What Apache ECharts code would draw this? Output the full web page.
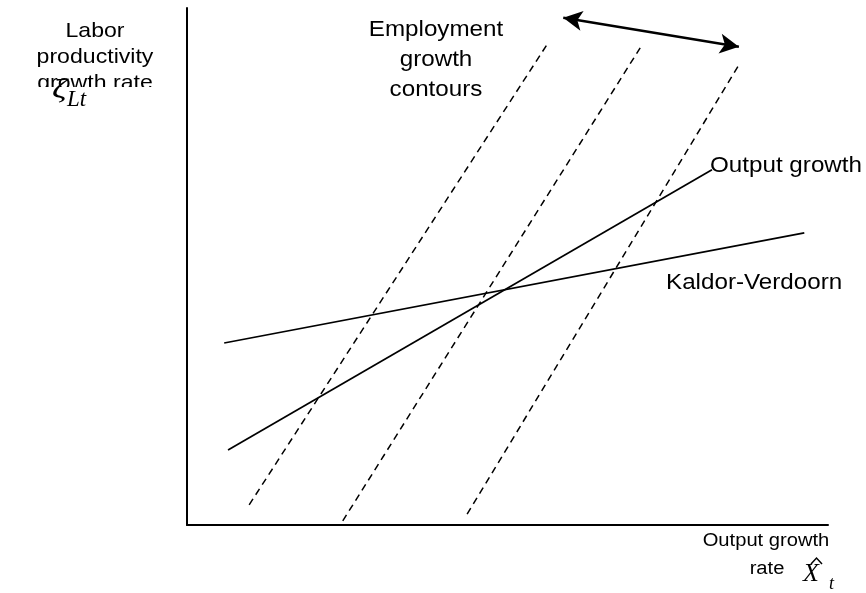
<!DOCTYPE html>
<html>
<head>
<meta charset="utf-8">
<script src="https://cdn.jsdelivr.net/npm/echarts@6/dist/echarts.min.js"></script>
<style>html,body{margin:0;padding:0;background:#fff}#c{width:866px;height:593px}</style>
</head>
<body>
<div id="c"></div>
<script>
// Data in abstract units (x: output growth 0-100, y: productivity growth 0-100)
const kaldorVerdoorn = [[5.8, 35.2], [96.3, 56.5]];
const outputGrowth = [[6.4, 14.5], [81.9, 68.7]];
const contour1 = [[9.7, 3.9], [56.2, 93.0]];
const contour2 = [[24.3, 0.8], [70.7, 92.3]];
const contour3 = [[43.7, 2.1], [86.3, 89.4]];
const shiftArrow = [[58.7, 98.1], [86.1, 92.5]];

const yLabelLines = ['Labor', 'productivity', 'growth rate'];
const contourLabelLines = ['Employment', 'growth', 'contours'];
const outputGrowthLabel = 'Output growth';
const kvLabel = 'Kaldor-Verdoorn';
const xLabelLines = ['Output growth', 'rate'];

const chart = echarts.init(document.getElementById('c'), null, {renderer: 'canvas'});
const sans = 'Liberation Sans, Arial, sans-serif';
const serif = 'Liberation Serif, Times New Roman, serif';

const solid = {color: '#000', width: 1.7, type: 'solid'};
const dashed = {color: '#000', width: 1.5, type: [7, 5]};

function lineSeries(data, style) {
  return {type: 'line', data: data, symbol: 'none', lineStyle: style, silent: true, animation: false, z: 3};
}
function txt(t, x, y, size, align, sx) {
  return {type: 'text', x: x, y: y, scaleX: sx || 1.1, originX: 0, originY: 0,
    style: {text: t, font: size + 'px ' + sans, fill: '#000', align: align, verticalAlign: 'middle'}, z: 10};
}

const graphic = [];
yLabelLines.forEach((t, i) => graphic.push(txt(t, 95, 31 + i * 26, 21, 'center')));
// cover the lower part of the clipped third line
graphic.push({type: 'rect', shape: {x: 10, y: 87, width: 170, height: 25}, style: {fill: '#fff'}, z: 11});
graphic.push({type: 'text', x: 52, y: 90, scaleX: 1.3, originX: 0, originY: 0,
  style: {text: 'ζ', font: 'italic 28px ' + serif, fill: '#000', verticalAlign: 'middle'}, z: 12});
graphic.push({type: 'text', x: 67, y: 100, style: {text: 'Lt', font: 'italic 23px ' + serif, fill: '#000', verticalAlign: 'middle'}, z: 12});

contourLabelLines.forEach((t, i) => graphic.push(txt(t, 436, 30 + i * 30, 22, 'center')));
graphic.push(txt(outputGrowthLabel, 710, 166, 22, 'left'));
graphic.push(txt(kvLabel, 666, 283, 22, 'left'));
graphic.push(txt(xLabelLines[0], 766, 541, 18, 'center', 1.12));
graphic.push(txt(xLabelLines[1], 767, 569, 18, 'center', 1.12));
graphic.push({type: 'text', x: 803, y: 574, style: {text: 'X', font: 'italic 26px ' + serif, fill: '#000', verticalAlign: 'middle'}, z: 10});
graphic.push({type: 'polyline', shape: {points: [[811, 564], [816.5, 558], [822, 564]]}, style: {stroke: '#000', lineWidth: 1.5, fill: null}, z: 10});
graphic.push({type: 'text', x: 829, y: 584, style: {text: 't', font: 'italic 18px ' + serif, fill: '#000', verticalAlign: 'middle'}, z: 10});

chart.setOption({
  animation: false,
  backgroundColor: '#fff',
  grid: {left: 187, top: 8, right: 38, bottom: 68, containLabel: false},
  xAxis: {type: 'value', min: 0, max: 100, axisLine: {show: true, onZero: false, lineStyle: {color: '#000', width: 2}},
    axisTick: {show: false}, axisLabel: {show: false}, splitLine: {show: false}},
  yAxis: {type: 'value', min: 0, max: 100, axisLine: {show: true, onZero: false, lineStyle: {color: '#000', width: 2}},
    axisTick: {show: false}, axisLabel: {show: false}, splitLine: {show: false}},
  series: [
    lineSeries(kaldorVerdoorn, solid),
    lineSeries(outputGrowth, solid),
    lineSeries(contour1, dashed),
    lineSeries(contour2, dashed),
    lineSeries(contour3, dashed),
    {type: 'line', data: [], symbol: 'none', silent: true,
      markLine: {silent: true, animation: false, symbol: ['arrow', 'arrow'], symbolSize: [15, 19],
        label: {show: false}, lineStyle: {color: '#000', width: 2.5, type: 'solid'},
        data: [[{coord: shiftArrow[0]}, {coord: shiftArrow[1]}]]}}
  ],
  graphic: graphic
});
</script>
</body>
</html>
